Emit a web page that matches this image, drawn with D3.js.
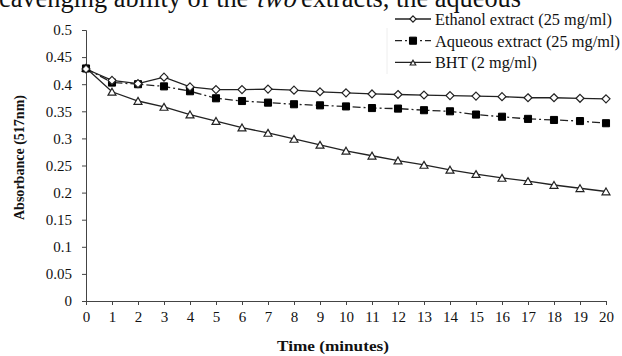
<!DOCTYPE html>
<html>
<head>
<meta charset="utf-8">
<script src="https://cdn.jsdelivr.net/npm/d3@7"></script>
<style>
  body { margin: 0; background: #fff; }
  svg { display: block; font-family: "Liberation Serif", "Times New Roman", serif; }
</style>
</head>
<body>
<div id="chart"></div>
<script>
// time points (minutes)
const times = d3.range(0, 21);
const yTicks = [0, 0.05, 0.1, 0.15, 0.2, 0.25, 0.3, 0.35, 0.4, 0.45, 0.5];

// absorbance at 517nm
const ethanol = [0.428, 0.407, 0.401, 0.413, 0.395, 0.390, 0.390, 0.391, 0.389, 0.386, 0.384,
                 0.382, 0.381, 0.380, 0.379, 0.378, 0.377, 0.375, 0.375, 0.374, 0.373];
const aqueous = [0.429, 0.403, 0.400, 0.396, 0.387, 0.374, 0.369, 0.366, 0.363, 0.361, 0.359,
                 0.356, 0.355, 0.352, 0.350, 0.344, 0.340, 0.336, 0.334, 0.332, 0.328];
const bht     = [0.430, 0.386, 0.369, 0.358, 0.344, 0.332, 0.320, 0.310, 0.299, 0.288, 0.277,
                 0.268, 0.259, 0.251, 0.242, 0.234, 0.227, 0.221, 0.214, 0.208, 0.202];

const seriesNames = ["Ethanol extract (25 mg/ml)", "Aqueous extract (25 mg/ml)", "BHT (2 mg/ml)"];

const width = 622, height = 356;
const margin = { top: 30, right: 16, bottom: 55, left: 86 };

const svg = d3.select("#chart").append("svg")
    .attr("width", width)
    .attr("height", height);

// squeeze/stretch a text to the width it has in the picture
function fit(sel, w) {
    sel.attr("textLength", w).attr("lengthAdjust", "spacingAndGlyphs");
    return sel;
}

// cut-off body text from the page above the figure ("two" in italics)
var capParts = ["cavenging ability of the ", "two", " extracts, the aqueous"];
var capY = 7;
var capX = -1;
var capG = svg.append("g").attr("fill", "#111");
var tmpW = [];
capParts.forEach(function (s) {
    var t = capG.append("text")
        .attr("x", 0).attr("y", capY)
        .attr("font-size", 27)
        .style("white-space", "pre")
        .text(s);
    tmpW.push(t.node().getComputedTextLength());
    t.remove();
});
var scaleCap = 522 / d3.sum(tmpW);
capParts.forEach(function (s, i) {
    var w = tmpW[i] * scaleCap;
    var t = capG.append("text")
        .attr("y", capY)
        .attr("font-size", 27)
        .style("white-space", "pre")
        .text(s);
    if (i === 1) {
        t.attr("x", 0).attr("transform", "translate(" + (capX + 1) + "," + capY + ") skewX(-14) translate(0," + (-capY) + ")");
    } else {
        t.attr("x", capX);
    }
    fit(t, w);
    capX += w;
});

var x = d3.scaleLinear()
    .domain([0, 20])
    .range([margin.left, width - margin.right]);

var y = d3.scaleLinear()
    .domain([0, 0.5])
    .range([height - margin.bottom, margin.top]);

// X axis
var gx = svg.append("g")
    .attr("transform", "translate(0," + (height - margin.bottom) + ")")
    .call(d3.axisBottom(x).tickValues(times).tickSize(4).tickPadding(6).tickFormat(d3.format("d")));
gx.selectAll("text").attr("font-size", 15).attr("fill", "#111").attr("font-family", "Liberation Serif");

// Y axis
var gy = svg.append("g")
    .attr("transform", "translate(" + margin.left + ",0)")
    .call(d3.axisLeft(y).tickValues(yTicks).tickSize(4).tickPadding(10).tickFormat(d => String(+d.toFixed(2))));
gy.selectAll("text").attr("font-size", 15).attr("fill", "#111").attr("font-family", "Liberation Serif");

svg.selectAll(".domain, .tick line").attr("stroke", "#444");

// axis titles
fit(svg.append("text")
    .attr("x", 277).attr("y", 351)
    .attr("font-size", 14.5).attr("font-weight", "bold").attr("fill", "#111")
    .text("Time (minutes)"), 112);

fit(svg.append("text")
    .attr("transform", "translate(24,220) rotate(-90)")
    .attr("x", 0).attr("y", 0)
    .attr("font-size", 14).attr("font-weight", "bold").attr("fill", "#111")
    .text("Absorbance (517nm)"), 125);

const line = d3.line()
    .x((d, i) => x(times[i]))
    .y(d => y(d));

const dashes = [null, "8,3,2,3", null];
const allSeries = [ethanol, aqueous, bht];

allSeries.forEach(function (vals, k) {
    svg.append("path")
        .datum(vals)
        .attr("fill", "none")
        .attr("stroke", "#222")
        .attr("stroke-width", 1.3)
        .attr("stroke-dasharray", dashes[k])
        .attr("d", line);
});

function marker(g, k, cx, cy, s) {
    if (k === 0) {
        g.append("path")
            .attr("d", d3.symbol(d3.symbolDiamond2, s * s * 0.5)())
            .attr("transform", "translate(" + cx + "," + cy + ")")
            .attr("fill", "#fff").attr("stroke", "#222").attr("stroke-width", 1.2);
    } else if (k === 1) {
        g.append("path")
            .attr("d", d3.symbol(d3.symbolSquare2, s * s)())
            .attr("transform", "translate(" + cx + "," + cy + ")")
            .attr("fill", "#000").attr("stroke", "#000").attr("stroke-width", 1);
    } else {
        g.append("path")
            .attr("d", d3.symbol(d3.symbolTriangle2, s * s * 0.45)())
            .attr("transform", "translate(" + cx + "," + (cy + 1) + ")")
            .attr("fill", "#fff").attr("stroke", "#222").attr("stroke-width", 1.2);
    }
}

// markers: BHT first, then aqueous, ethanol on top where they overlap
var gm = svg.append("g");
[2, 1, 0].forEach(function (k) {
    allSeries[k].forEach(function (v, i) {
        marker(gm, k, x(times[i]), y(v), k === 0 ? 9 : (k === 1 ? 8 : 10));
    });
});

// legend
var legendW = [177, 185, 102];
var lg = svg.append("g").attr("transform", "translate(395,0)");
lg.append("line")
    .attr("x1", -8).attr("x2", -8).attr("y1", 28).attr("y2", 74)
    .attr("stroke", "#eee");
seriesNames.forEach(function (name, k) {
    var cy = 19 + k * 21.7;
    lg.append("line")
        .attr("x1", 0).attr("x2", 36).attr("y1", cy).attr("y2", cy)
        .attr("stroke", "#222").attr("stroke-width", 1.3)
        .attr("stroke-dasharray", k === 1 ? "7,3,2,3" : null);
    marker(lg, k, 18, cy, k === 1 ? 8 : 7);
    fit(lg.append("text")
        .attr("x", 40).attr("y", cy + 6)
        .attr("font-size", 16.5).attr("fill", "#111")
        .text(name), legendW[k]);
});
</script>
</body>
</html>
